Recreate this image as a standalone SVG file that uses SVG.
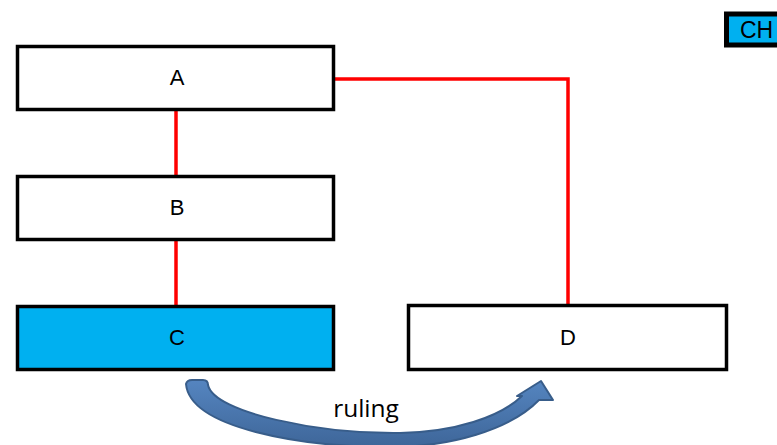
<svg xmlns="http://www.w3.org/2000/svg" width="777" height="445" viewBox="0 0 777 445">
<defs>
<linearGradient id="arrowGrad" x1="0" y1="0" x2="0" y2="1">
<stop offset="0" stop-color="#5585C0"/>
<stop offset="1" stop-color="#3E6699"/>
</linearGradient>
<style>
.box{fill:#ffffff;stroke:#000000;stroke-width:3.5}
.hl{fill:#00B0F0}
.lbl{font-family:"Liberation Sans",Arial,sans-serif;font-size:22px;fill:#000000;text-anchor:middle}
.conn{fill:none;stroke:#FF0000;stroke-width:3.5}
</style>
</defs>
<rect width="777" height="445" fill="#ffffff"/>
<g id="connectors">
<line class="conn" x1="176" y1="111" x2="176" y2="176"/>
<line class="conn" x1="176" y1="241" x2="176" y2="306"/>
<polyline class="conn" points="335,79 568,79 568,305"/>
</g>
<g id="nodeA">
<rect class="box" x="17.5" y="46.5" width="316" height="63"/>
<text class="lbl" x="177" y="85">A</text>
</g>
<g id="nodeB">
<rect class="box" x="17.5" y="176.5" width="316" height="63"/>
<text class="lbl" x="177" y="215">B</text>
</g>
<g id="nodeC">
<rect class="box hl" x="17.5" y="306.5" width="316" height="63"/>
<text class="lbl" x="177" y="345">C</text>
</g>
<g id="nodeD">
<rect class="box" x="408.5" y="305.5" width="318" height="64"/>
<text class="lbl" x="568" y="345">D</text>
</g>
<g id="legendCH">
<rect x="726.5" y="14" width="60" height="31" fill="#00B0F0" stroke="#000000" stroke-width="5"/>
<text x="740" y="38" font-family="'Liberation Sans',Arial,sans-serif" font-size="23" fill="#000000">CH</text>
</g>
<g id="ruling">
<path d="M186,384 Q187,380 192,380 L203,380 Q208,380 208,385 C214,413 320,434 400,433 C455,432 500,417 522,396 L517,396 L541,381 L553,400 L539,400 C510,430 450,447 390,447 C300,447 190,428 186,384 Z" fill="url(#arrowGrad)" stroke="#385D8A" stroke-width="2" stroke-linejoin="round"/>
<text x="366" y="417" font-family="'Open Sans','Liberation Sans',sans-serif" font-size="24.5" fill="#000000" text-anchor="middle">ruling</text>
</g>
</svg>
